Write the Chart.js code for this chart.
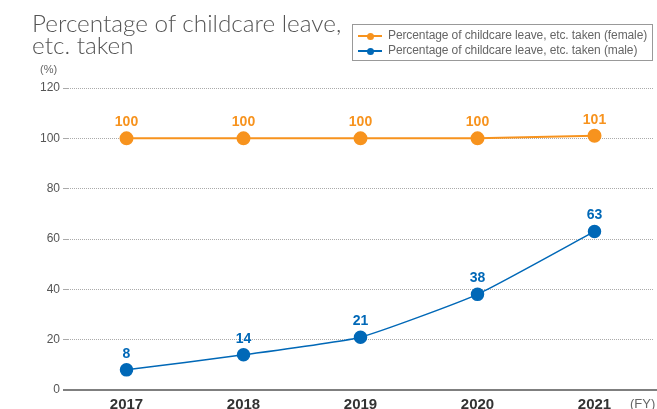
<!DOCTYPE html>
<html><head><meta charset="utf-8">
<script src="https://cdn.jsdelivr.net/npm/chart.js@4/dist/chart.umd.min.js"></script>
<style>
html,body{margin:0;padding:0;background:#fff;}
#wrap{position:relative;width:657px;height:409px;overflow:hidden;}
#c{position:absolute;left:0;top:0;}
#title{position:absolute;left:32px;top:12px;font-family:"Lato","DejaVu Sans",sans-serif;font-size:24.3px;line-height:22px;color:#555;font-weight:300;white-space:nowrap;}
#legend{position:absolute;left:352px;top:24px;width:301px;height:37px;border:1px solid #999;font-family:"Liberation Sans Narrow","Liberation Sans",sans-serif;font-size:12px;letter-spacing:-0.1px;color:#666;box-sizing:border-box;padding-top:3px;white-space:nowrap;}
.li{position:relative;height:15px;line-height:15px;padding-left:35px;}
.li .ln{position:absolute;left:5px;top:7px;width:24px;height:2px;}
.li .dt{position:absolute;left:13.5px;top:4.5px;width:7px;height:7px;border-radius:50%;}
#pct{position:absolute;left:40px;top:63px;font-family:"Liberation Sans Narrow","Liberation Sans",sans-serif;font-size:11px;color:#666;}
#fy{position:absolute;left:630px;top:396px;font-family:"Liberation Sans Narrow","Liberation Sans",sans-serif;font-size:13px;color:#666;}
</style></head>
<body><div id="wrap">
<canvas id="c" width="661" height="409"></canvas>
<div id="title">Percentage of childcare leave,<br>etc. taken</div>
<div id="legend">
<div class="li"><span class="ln" style="background:#f7931e"></span><span class="dt" style="background:#f7931e"></span>Percentage of childcare leave, etc. taken (female)</div>
<div class="li"><span class="ln" style="background:#0068b7"></span><span class="dt" style="background:#0068b7"></span>Percentage of childcare leave, etc. taken (male)</div>
</div>
<div id="pct">(%)</div>
<div id="fy">(FY)</div>
</div>
<script>
const categories = ["2017","2018","2019","2020","2021"];
const femaleValues = [100,100,100,100,101];
const maleValues = [8,14,21,38,63];
const yTicks = [0,20,40,60,80,100,120];

const ORANGE = "#f7931e", BLUE = "#0068b7";
const narrow = '"Liberation Sans Narrow","Liberation Sans",sans-serif';

const labelPlugin = {
  id:'vlabels',
  afterDatasetsDraw(chart){
    const ctx = chart.ctx;
    ctx.save();
    ctx.font = 'bold 14px ' + narrow;
    ctx.textAlign = 'center';
    ctx.textBaseline = 'alphabetic';
    chart.data.datasets.forEach((ds,i)=>{
      const meta = chart.getDatasetMeta(i);
      ctx.fillStyle = ds.borderColor;
      meta.data.forEach((pt,j)=>{
        ctx.fillText(String(ds.data[j]), pt.x, pt.y - 12);
      });
    });
    ctx.restore();
  }
};

const zeroLine = {
  id:'zeroLine',
  beforeDatasetsDraw(chart){
    const ctx = chart.ctx, y = chart.scales.y.getPixelForValue(0);
    ctx.save();
    ctx.strokeStyle = '#555';
    ctx.lineWidth = 1.5;
    ctx.beginPath();
    ctx.moveTo(chart.chartArea.left - 5, y);
    ctx.lineTo(657, y);
    ctx.stroke();
    ctx.restore();
  }
};

new Chart(document.getElementById('c'), {
  type:'line',
  data:{
    labels: categories,
    datasets:[
      {label:'Percentage of childcare leave, etc. taken (female)', data: femaleValues, borderColor:ORANGE, backgroundColor:ORANGE, borderWidth:2, pointRadius:6, pointHoverRadius:6, tension:0},
      {label:'Percentage of childcare leave, etc. taken (male)', data: maleValues, borderColor:BLUE, backgroundColor:BLUE, borderWidth:1.5, pointRadius:6, pointHoverRadius:6, tension:0.15}
    ]
  },
  options:{
    responsive:false, animation:false, devicePixelRatio:1,
    layout:{padding:{top:88,right:0,left:0,bottom:0}},
    plugins:{legend:{display:false}, tooltip:{enabled:false}},
    scales:{
      x:{
        offset:true,
        grid:{display:false, drawTicks:false},
        border:{display:false},
        ticks:{color:'#333',font:{family:narrow,size:15,weight:'bold'},padding:6},
        afterFit(s){s.height = 19;}
      },
      y:{
        min:0,max:120,
        afterBuildTicks(s){ s.ticks = yTicks.map(v=>({value:v})); },
        grid:{color:(c)=> c.tick && c.tick.value===0 ? 'rgba(0,0,0,0)' : '#aaa', lineWidth:1, tickLength:5, drawTicks:true, tickColor:(c)=> c.tick && c.tick.value===0 ? 'rgba(0,0,0,0)' : '#aaa'},
        border:{display:false, dash:[1,1]},
        ticks:{color:'#555',font:{family:narrow,size:12},padding:3},
        afterFit(s){s.width = 68;}
      }
    }
  },
  plugins:[zeroLine, labelPlugin]
});
</script>
</body></html>
